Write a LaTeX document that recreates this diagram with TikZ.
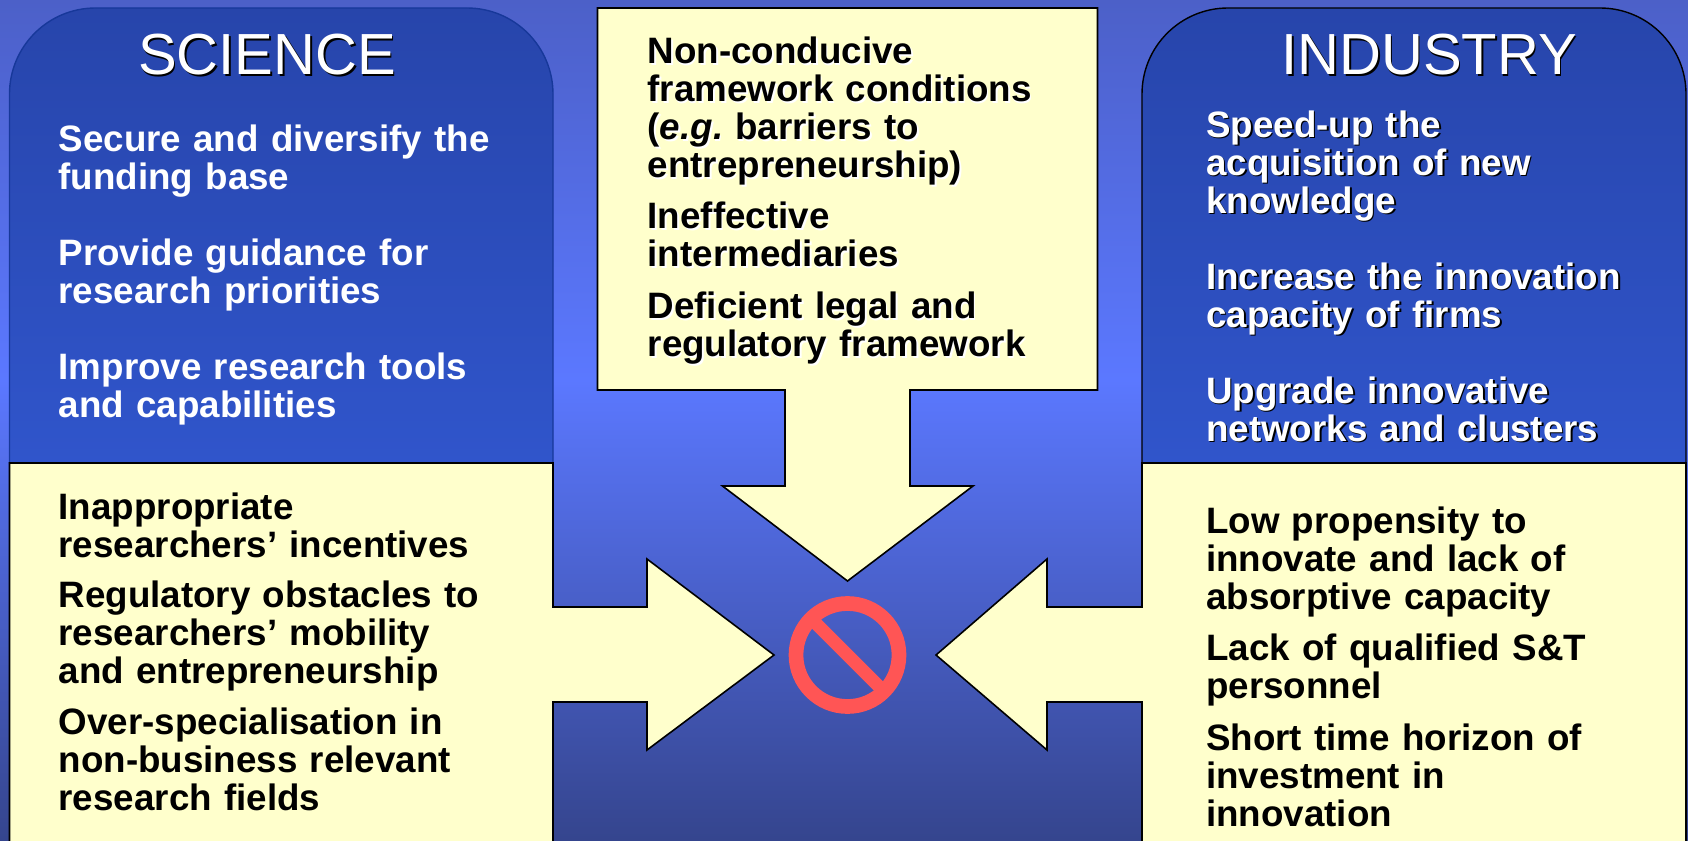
\documentclass[tikz,border=0pt]{standalone}
\usepackage{fontspec}
\setmainfont{Liberation Sans}[Ligatures=NoCommon]
\definecolor{paleyellow}{HTML}{FFFFCC}
\definecolor{signred}{HTML}{FF5555}
\definecolor{bgtop}{HTML}{4C60C8}
\definecolor{bgmid}{HTML}{5B78FF}
\definecolor{bgbottom}{HTML}{35458E}
\definecolor{panelhigh}{HTML}{2745AB}
\definecolor{panellow}{HTML}{3055CB}
\definecolor{panelline}{HTML}{17389A}
\newcommand{\dropline}[2][black]{\leavevmode\rlap{\raisebox{-1.7pt}{\kern1.7pt\textcolor{#1}{#2}}}#2}
\tikzset{
  panel/.style={shading=axis, top color=panelhigh, bottom color=panellow, line width=1.4pt},
  arrowblock/.style={fill=paleyellow, draw=black, line width=1.6pt, line join=miter},
  headline/.style={font=\fontsize{58}{60}\selectfont, text=white, inner sep=0pt, anchor=base},
  itemtext/.style={font=\fontsize{36.75}{38}\selectfont\bfseries, inner sep=0pt, anchor=base west, text width=490pt, align=left},
  lightitem/.style={itemtext, text=white},
  darkitem/.style={itemtext, text=black}
}
\begin{document}
\begin{tikzpicture}[x=1pt, y=-1pt]
      \useasboundingbox (0,0) rectangle (1688,840);
      \shade[top color=bgtop, bottom color=bgmid] (0,0) rectangle (1688,380);
      \shade[top color=bgmid, bottom color=bgbottom] (0,380) rectangle (1688,840);

      \draw[panel, draw=panelline] (9.5,463) [rounded corners=86pt] -- (9.5,8) -- (553,8) [sharp corners] -- (553,463) -- cycle;
      \draw[panel, draw=black] (1142,463) [rounded corners=86pt] -- (1142,8) -- (1686,8) [sharp corners] -- (1686,463) -- cycle;

      \draw[arrowblock] (9.5,842) -- (9.5,463) -- (553,463) -- (553,607) -- (647,607) -- (647,559)
        -- (774,655) -- (647,750) -- (647,702) -- (553,702) -- (553,842) -- cycle;
      \draw[arrowblock] (1686,842) -- (1686,463) -- (1142,463) -- (1142,607) -- (1047,607) -- (1047,559)
        -- (936,655) -- (1047,750) -- (1047,702) -- (1142,702) -- (1142,842) -- cycle;
      \draw[arrowblock] (597.5,8) -- (1097.5,8) -- (1097.5,390) -- (910,390) -- (910,486) -- (973,486)
        -- (847.5,581) -- (722.5,486) -- (785,486) -- (785,390) -- (597.5,390) -- cycle;

      \node[circle, draw=signred, line width=14.7pt, minimum size=103pt, inner sep=0pt, outer sep=0pt] (stop) at (847.5,655) {};
      \draw[signred, line width=13pt] (stop.north west) -- (stop.south east);

      \node[headline] (science) at (267,75) {\dropline{SCIENCE}};
      \node[headline] (industry) at (1429,75) {\dropline{INDUSTRY}};

      \node[lightitem] (scienceA) at (58.5,151) {Secure and diversify the\\funding base};
      \node[lightitem] (scienceB) at (58.5,265) {Provide guidance for\\research priorities};
      \node[lightitem] (scienceC) at (58.5,379) {Improve research tools\\and capabilities};

      \node[lightitem] (industryA) at (1206,137) {\dropline{Speed-up the}\\\dropline{acquisition of new}\\\dropline{knowledge}};
      \node[lightitem] (industryB) at (1206,289) {\dropline{Increase the innovation}\\\dropline{capacity of firms}};
      \node[lightitem] (industryC) at (1206,403) {\dropline{Upgrade innovative}\\\dropline{networks and clusters}};

      \node[darkitem] (barrierA) at (647.5,63.5) {\dropline[white]{Non-conducive}\\\dropline[white]{framework conditions}\\\dropline[white]{({\itshape e.g.}\kern-6.5pt{} barriers to}\\\dropline[white]{entrepreneurship)}};
      \node[darkitem] (barrierB) at (647.5,228.5) {\dropline[white]{Ineffective}\\\dropline[white]{intermediaries}};
      \node[darkitem] (barrierC) at (647.5,318.5) {\dropline[white]{Deficient legal and}\\\dropline[white]{regulatory framework}};

      \node[darkitem] (weakA) at (58.5,519) {Inappropriate\\researchers’ incentives};
      \node[darkitem] (weakB) at (58.5,607.5) {Regulatory obstacles to\\researchers’ mobility\\and entrepreneurship};
      \node[darkitem] (weakC) at (58.5,734) {Over-specialisation in\\non-business relevant\\research fields};

      \node[darkitem] (lackA) at (1206,533) {Low propensity to\\innovate and lack of\\absorptive capacity};
      \node[darkitem] (lackB) at (1206,660) {Lack of qualified S\&T\\personnel};
      \node[darkitem] (lackC) at (1206,750) {Short time horizon of\\investment in\\innovation};
\end{tikzpicture}
\end{document}
